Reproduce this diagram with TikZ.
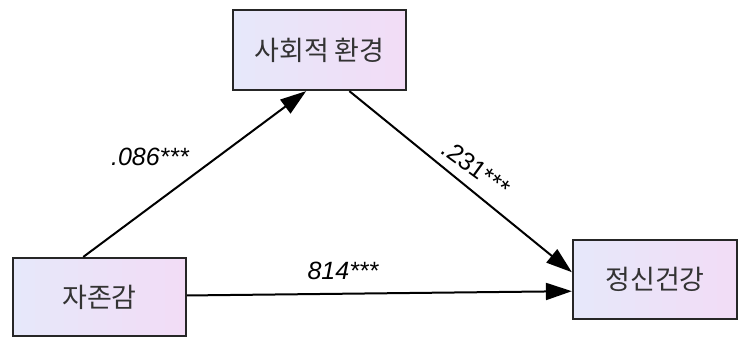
\documentclass[tikz,border=0pt]{standalone}
\usepackage{fontspec}
\setmainfont{Liberation Sans}
\newfontfamily\kr{Noto Sans CJK KR}
\usetikzlibrary{arrows.meta}

\definecolor{boxleft}{RGB}{230,232,250}
\definecolor{boxright}{RGB}{242,220,246}

\begin{document}
\begin{tikzpicture}[x=0.5pt,y=-0.5pt,
  varbox/.style={draw=black!85,line width=1.1pt,left color=boxleft,right color=boxright,
    inner sep=0pt,font=\kr\fontsize{13.5}{15}\selectfont,text=black!80},
  path/.style={line width=1pt,-{Triangle[length=13pt,width=8.5pt]}},
  coef/.style={font=\itshape\fontsize{12.5}{14}\selectfont}]

\useasboundingbox (0,0) rectangle (738,339);

% Variables
\node[varbox,minimum width=86.5pt,minimum height=40pt] (env) at (319.5,50) {사회적 환경};
\node[varbox,minimum width=86.5pt,minimum height=39pt] (self) at (99.5,297) {자존감};
\node[varbox,minimum width=82pt,minimum height=39.5pt] (health) at (655,279.5) {정신건강};

% Chemins
\draw[path] (self.112.9) -- (env.252.6);
\draw[path] (env.-54.5) -- (health.175.5);
\draw[path] (self.1.3) -- (health.188);

% Coefficients
\node[coef] (c1) at (150,157) {.086***};
\node[coef,rotate=-36,font=\upshape\fontsize{12.5}{14}\selectfont] (c2) at (476,168) {.231***};
\node[coef] (c3) at (343,271) {814***};

\end{tikzpicture}
\end{document}
